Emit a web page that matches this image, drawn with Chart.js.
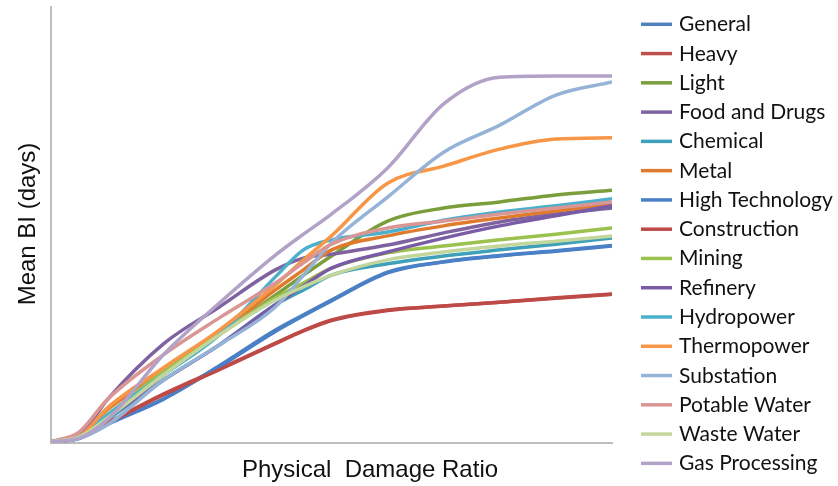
<!DOCTYPE html>
<html>
<head>
<meta charset="utf-8">
<script src="https://cdn.jsdelivr.net/npm/chart.js@4/dist/chart.umd.min.js"></script>
<style>
html,body{margin:0;padding:0;background:#ffffff;}
#wrap{width:838px;height:486px;position:relative;}
</style>
</head>
<body>
<div id="wrap"><canvas id="c" width="838" height="486"></canvas></div>
<script>
// ---- data ----
const damageRatio = [0, 5, 10, 20, 30, 40, 45, 50, 60, 70, 80, 90, 100];

const seriesNames = ['General','Heavy','Light','Food and Drugs','Chemical','Metal','High Technology','Construction','Mining','Refinery','Hydropower','Thermopower','Substation','Potable Water','Waste Water','Gas Processing'];

const general       = [0.3, 1.1, 4.4, 10.1, 17.7, 25.9, 29.4, 32.8, 39.2, 41.5, 42.9, 44.0, 45.2];
const heavy         = [0.3, 1.4, 4.6, 11.2, 17.0, 22.9, 25.8, 28.2, 30.5, 31.4, 32.3, 33.3, 34.2];
const light         = [0.3, 1.4, 5.7, 15.6, 24.8, 33.9, 38.5, 42.9, 50.9, 53.9, 55.3, 56.9, 58.0];
const foodAndDrugs  = [0.3, 1.6, 9.9, 22.7, 31.2, 39.7, 42.4, 43.3, 45.4, 48.2, 50.7, 52.5, 53.9];
const chemical      = [0.3, 1.1, 5.3, 14.4, 22.5, 31.7, 35.1, 38.5, 41.1, 42.9, 44.3, 45.6, 47.0];
const metal         = [0.3, 1.4, 7.6, 16.3, 25.2, 35.1, 39.7, 44.3, 47.5, 49.8, 51.6, 53.2, 54.8];
const highTech      = [0.3, 1.0, 4.2, 10.0, 17.5, 25.6, 29.2, 32.6, 39.0, 41.6, 43.0, 44.1, 45.3];
const construction  = [0.3, 1.3, 4.5, 11.0, 16.8, 22.8, 25.7, 28.1, 30.4, 31.4, 32.3, 33.2, 34.1];
const mining        = [0.3, 1.4, 6.4, 16.3, 25.0, 33.3, 36.7, 40.1, 43.6, 45.2, 46.6, 47.9, 49.3];
const refinery      = [0.3, 1.1, 5.7, 14.4, 22.5, 31.7, 36.0, 40.1, 43.8, 47.0, 49.8, 52.1, 54.4];
const hydropower    = [0.3, 1.4, 6.4, 15.6, 24.8, 38.1, 44.3, 46.6, 48.4, 51.1, 53.0, 54.4, 56.0];
const thermopower   = [0.3, 1.4, 8.0, 17.2, 25.9, 36.2, 42.0, 47.5, 59.6, 63.5, 67.4, 69.7, 70.0];
const substation    = [0.3, 1.1, 4.1, 14.4, 22.5, 31.2, 38.5, 45.9, 56.4, 66.7, 72.9, 79.8, 82.8];
const potableWater  = [0.3, 2.5, 9.9, 20.2, 28.7, 36.7, 41.3, 45.6, 49.3, 50.9, 52.5, 53.9, 55.3];
const wasteWater    = [0.3, 1.4, 5.7, 15.6, 24.8, 32.8, 35.8, 38.5, 42.0, 43.8, 45.2, 46.3, 47.5];
const gasProcessing = [0.3, 1.1, 5.3, 20.2, 32.1, 43.1, 47.9, 52.5, 63.1, 77.8, 83.9, 84.2, 84.2];

const seriesValues = [general, heavy, light, foodAndDrugs, chemical, metal, highTech, construction, mining, refinery, hydropower, thermopower, substation, potableWater, wasteWater, gasProcessing];

const xAxisTitle = 'Physical  Damage Ratio';
const yAxisTitle = 'Mean BI (days)';

// ---- styles ----
const seriesColors = ['#4F81BD','#C0504D','#7A9E3C','#7E63A0','#3FA0BA','#E07B2E','#4A80C8','#BE4A47','#9BC14E','#7A5BA6','#4BB0CB','#F79646','#95B3D7','#D99694','#C3D69B','#B3A2C7'];

const overlay = {
  id: 'overlay',
  afterDraw(chart) {
    const ctx = chart.ctx;
    ctx.save();
    // legend
    const rowTop = 24.3, rowStep = 29.27;
    ctx.font = '21px Lato, "Open Sans", sans-serif';
    ctx.textAlign = 'left';
    ctx.textBaseline = 'alphabetic';
    seriesNames.forEach((name, i) => {
      const cy = rowTop + i * rowStep;
      ctx.strokeStyle = seriesColors[i];
      ctx.lineWidth = 3.5;
      ctx.lineCap = 'butt';
      ctx.beginPath();
      ctx.moveTo(641, cy);
      ctx.lineTo(672, cy);
      ctx.stroke();
      ctx.fillStyle = '#111111';
      ctx.fillText(name, 679, cy + 7);
    });
    // axis titles
    ctx.fillStyle = '#111111';
    ctx.font = '24px "Liberation Sans", Arial, sans-serif';
    ctx.textAlign = 'center';
    ctx.fillText(xAxisTitle, 370, 477);
    ctx.translate(35, 224);
    ctx.rotate(-Math.PI / 2);
    ctx.fillText(yAxisTitle, 0, 0);
    ctx.restore();
  }
};

const axisCommon = {
  grid: { display: false, drawTicks: false },
  ticks: { display: false },
  border: { display: true, color: '#BDBDBD', width: 2 }
};

new Chart(document.getElementById('c'), {
  type: 'line',
  data: {
    datasets: seriesValues.map((vals, i) => ({
      label: seriesNames[i],
      data: vals.map((v, j) => ({ x: damageRatio[j], y: v })),
      borderColor: seriesColors[i],
      backgroundColor: seriesColors[i],
      borderWidth: 3.5,
      pointRadius: 0,
      cubicInterpolationMode: 'monotone',
      fill: false,
      order: seriesNames.length - i
    }))
  },
  options: {
    responsive: false,
    animation: false,
    devicePixelRatio: 1,
    layout: { padding: { left: 51, right: 226, top: 7, bottom: 43 } },
    plugins: { legend: { display: false }, tooltip: { enabled: false } },
    scales: {
      x: Object.assign({ type: 'linear', min: 0, max: 100 }, axisCommon),
      y: Object.assign({ type: 'linear', min: 0, max: 100 }, axisCommon)
    }
  },
  plugins: [overlay]
});
</script>
</body>
</html>
